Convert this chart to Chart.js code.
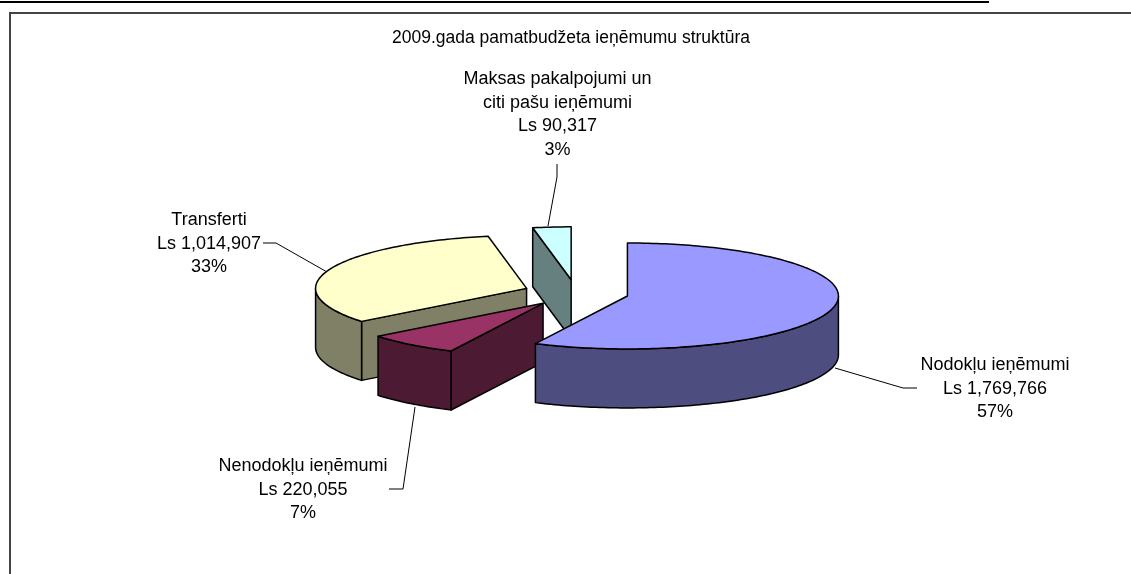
<!DOCTYPE html>
<html>
<head>
<meta charset="utf-8">
<style>
  html, body { margin: 0; background: #fff; overflow: hidden; }
  #wrap { position: relative; width: 1131px; height: 574px; }
  canvas { position: absolute; left: 0; top: 0; }
  .rule { position: absolute; left: 0; top: 1px; width: 989px; height: 2px; background: #000; }
  .frame { position: absolute; left: 9px; top: 12px; right: -3px; bottom: -3px; border: 2px solid #444; }
</style>
</head>
<body>
<div id="wrap">
  <div class="rule"></div>
  <div class="frame"></div>
  <canvas id="chart" width="1131" height="574"></canvas>
</div>
<script src="https://cdn.jsdelivr.net/npm/chart.js@4/dist/chart.umd.min.js"></script>
<script>
const chartTitle = "2009.gada pamatbudžeta ieņēmumu struktūra";
const categories = ["Nodokļu ieņēmumi", "Nenodokļu ieņēmumi", "Transferti", "Maksas pakalpojumi un\nciti pašu ieņēmumi"];
const amounts = [1769766, 220055, 1014907, 90317];
const amountLabels = ["Ls 1,769,766", "Ls 220,055", "Ls 1,014,907", "Ls 90,317"];
const percentLabels = ["57%", "7%", "33%", "3%"];
const topColors = ["#9999ff", "#993366", "#ffffcc", "#ccffff"];
const wallColors = ["#4d4d80", "#4d1a33", "#808066", "#668080"];

// look of the tilted pie
const pieX = 576, pieY = 293, tilt = 0.251, depth = 59;
const explode = 52.75; // how far each slice is pulled out, before the tilt
const drawOrder = [3, 2, 1, 0]; // back to front
const font = '18px "Liberation Sans", Arial, sans-serif';

// where the labels sit, centre x and first line y, plus leader line
const labelSpots = [
  { x: 995, y: 365, leader: [[835, 368], [903, 388], [917, 388]] },
  { x: 303, y: 466, leader: [[415, 407], [403, 489], [389, 489]] },
  { x: 209, y: 220, leader: [[327, 272], [276, 243], [263, 243]] },
  { x: 557.5, y: 79, leader: [[548, 226], [557, 177], [557, 164]] },
];

const pie3d = {
  id: "pie3d",
  beforeDatasetDraw(chart) {
    const { ctx } = chart;
    const arcs = chart.getDatasetMeta(0).data;

    const outline = () => {
      ctx.strokeStyle = "#000";
      ctx.lineWidth = 1.5;
      ctx.lineJoin = "round";
      ctx.stroke();
    };

    drawOrder.forEach((i) => {
      const arc = arcs[i];
      const mid = (arc.startAngle + arc.endAngle) / 2;
      const ax = Math.cos(mid) * explode;
      const ay = Math.sin(mid) * explode;
      const r = arc.outerRadius;
      const apex = { x: pieX + ax, y: pieY + ay * tilt };
      const rim = (a) => ({
        x: pieX + ax + Math.cos(a) * r,
        y: pieY + (ay + Math.sin(a) * r) * tilt,
      });

      ctx.save();
      ctx.fillStyle = wallColors[i];

      // cut faces, only the ones turned to the viewer
      [[apex, rim(arc.startAngle)], [rim(arc.endAngle), apex]].forEach(([p, q]) => {
        if (q.x - p.x < -0.5) {
          ctx.beginPath();
          ctx.moveTo(p.x, p.y);
          ctx.lineTo(q.x, q.y);
          ctx.lineTo(q.x, q.y + depth);
          ctx.lineTo(p.x, p.y + depth);
          ctx.closePath();
          ctx.fill();
          outline();
        }
      });

      // curved outer wall, front half of the rim only
      const from = Math.max(arc.startAngle, 0);
      const to = Math.min(arc.endAngle, Math.PI);
      if (to > from) {
        ctx.beginPath();
        for (let a = from; a < to; a += 0.02) {
          const p = rim(a);
          ctx.lineTo(p.x, p.y);
        }
        const e = rim(to);
        ctx.lineTo(e.x, e.y);
        ctx.lineTo(e.x, e.y + depth);
        for (let a = to; a > from; a -= 0.02) {
          const p = rim(a);
          ctx.lineTo(p.x, p.y + depth);
        }
        const s = rim(from);
        ctx.lineTo(s.x, s.y + depth);
        ctx.closePath();
        ctx.fill();
        outline();
      }
      ctx.restore();

      // top face is the library's own arc, squashed
      ctx.save();
      ctx.translate(apex.x, apex.y);
      ctx.scale(1, tilt);
      ctx.translate(-arc.x, -arc.y);
      arc.draw(ctx);
      ctx.restore();

      // same outline at a constant width
      ctx.save();
      ctx.beginPath();
      ctx.moveTo(apex.x, apex.y);
      for (let a = arc.startAngle; a < arc.endAngle; a += 0.02) {
        const p = rim(a);
        ctx.lineTo(p.x, p.y);
      }
      const last = rim(arc.endAngle);
      ctx.lineTo(last.x, last.y);
      ctx.closePath();
      outline();
      ctx.restore();
    });
    return false;
  },
  afterDatasetsDraw(chart) {
    const { ctx } = chart;
    ctx.save();
    ctx.font = font;
    ctx.fillStyle = "#000";
    ctx.textAlign = "center";
    ctx.textBaseline = "middle";
    categories.forEach((name, i) => {
      const spot = labelSpots[i];
      const lines = name.split("\n").concat(amountLabels[i], percentLabels[i]);
      lines.forEach((line, n) => ctx.fillText(line, spot.x, spot.y + n * 23.7));

      ctx.beginPath();
      spot.leader.forEach(([x, y], n) => (n ? ctx.lineTo(x, y) : ctx.moveTo(x, y)));
      ctx.strokeStyle = "#000";
      ctx.lineWidth = 1;
      ctx.stroke();
    });
    ctx.restore();
  },
};

new Chart(document.getElementById("chart"), {
  type: "pie",
  data: {
    labels: categories,
    datasets: [{
      data: amounts,
      backgroundColor: topColors,
      borderWidth: 0,
    }],
  },
  options: {
    responsive: false,
    animation: false,
    radius: 211,
    layout: { padding: { left: 11, top: 28 } },
    plugins: {
      legend: { display: false },
      tooltip: { enabled: false },
      title: {
        display: true,
        text: chartTitle,
        color: "#000",
        font: { family: '"Liberation Sans", Arial, sans-serif', size: 17.5, weight: "normal" },
        padding: 0,
      },
    },
  },
  plugins: [pie3d],
});
</script>
</body>
</html>
